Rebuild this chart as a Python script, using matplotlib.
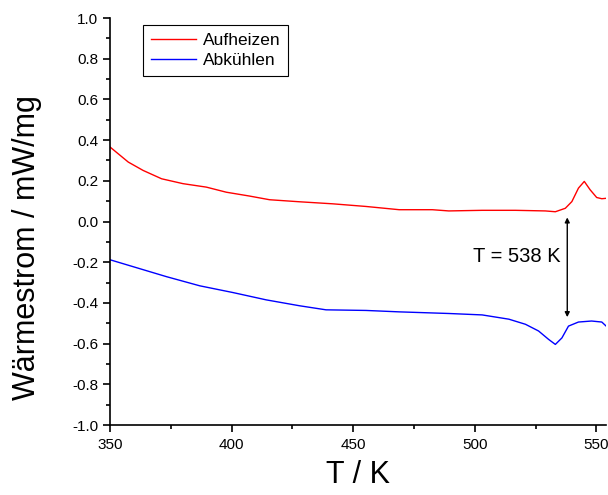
import matplotlib.pyplot as plt
from matplotlib.ticker import MultipleLocator

plt.rcParams['font.family'] = ['Liberation Sans', 'DejaVu Sans']

# DSC traces, heating and cooling
t_heat = [350, 357.5, 363.6, 371.2, 380, 389.6, 397.8, 407.4, 415.6, 427.9, 441.5,
          455.2, 468.9, 482.5, 489.3, 503, 516.7, 529, 533.1, 537.2, 539.9, 542.6,
          545, 547.4, 550.1, 552.2, 554]
q_heat = [0.366, 0.292, 0.251, 0.210, 0.186, 0.169, 0.144, 0.125, 0.107, 0.097, 0.087,
          0.074, 0.058, 0.058, 0.052, 0.055, 0.055, 0.052, 0.048, 0.065, 0.098, 0.164,
          0.197, 0.156, 0.118, 0.112, 0.114]

t_cool = [350, 359.5, 373.2, 386.9, 400.5, 414.2, 427.9, 438.8, 455.2, 468.9, 489.3,
          503, 514, 520.8, 526.2, 530.3, 533.1, 535.8, 538.5, 542.6, 548, 552.2, 554]
q_cool = [-0.188, -0.222, -0.271, -0.316, -0.349, -0.385, -0.414, -0.434, -0.437, -0.444,
          -0.452, -0.459, -0.48, -0.505, -0.538, -0.579, -0.604, -0.572, -0.514, -0.494,
          -0.489, -0.494, -0.514]

t_mark = 538
arrow_top = 0.02
arrow_bottom = -0.47

fig = plt.figure(figsize=(6.08, 4.95), dpi=100)
ax = fig.add_axes([0.181, 0.1414, 0.816, 0.8222])

ax.plot(t_heat, q_heat, color='#ff0000', lw=1.0, label='Aufheizen')
ax.plot(t_cool, q_cool, color='#0000ff', lw=1.0, label='Abkühlen')

ax.annotate('', xy=(t_mark, arrow_bottom), xytext=(t_mark, arrow_top),
            arrowprops=dict(arrowstyle='<|-|>', color='black', lw=1.0,
                            mutation_scale=7, shrinkA=0, shrinkB=0))
ax.text(t_mark - 2.6, -0.17, 'T = %d K' % t_mark, fontsize=14.5,
        ha='right', va='center')

ax.set_xlim(350, 554)
ax.set_ylim(-1.0, 1.0)
ax.xaxis.set_major_locator(MultipleLocator(50))
ax.xaxis.set_minor_locator(MultipleLocator(25))
ax.yaxis.set_major_locator(MultipleLocator(0.2))
ax.yaxis.set_minor_locator(MultipleLocator(0.1))
ax.yaxis.set_major_formatter(lambda v, p: '%.1f' % v)

for side in ('top', 'right'):
    ax.spines[side].set_visible(False)
for side in ('left', 'bottom'):
    ax.spines[side].set_linewidth(1.2)

ax.tick_params(which='major', direction='out', length=5, width=1.2, labelsize=11)
ax.tick_params(which='minor', direction='out', length=3, width=1.2)
ax.tick_params(axis='x', pad=4)

ax.set_xlabel('T / K', fontsize=22, labelpad=6)
ax.set_ylabel('Wärmestrom / mW/mg', fontsize=22)
# the y title sits a bit below the middle of the axis
ax.yaxis.set_label_coords(-0.137, 0.437)

leg = ax.legend(loc='upper left', bbox_to_anchor=(0.066, 0.983), borderaxespad=0,
                fontsize=12.5, handlelength=2.6, handletextpad=0.4,
                fancybox=False, framealpha=1, borderpad=0.45, labelspacing=0.3)
leg.get_frame().set_edgecolor('black')
leg.get_frame().set_linewidth(0.8)

fig.savefig('out.png', dpi=100)
